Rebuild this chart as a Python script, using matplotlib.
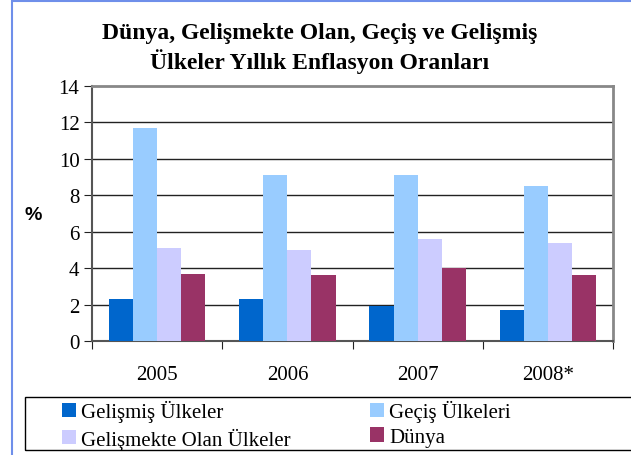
import matplotlib
matplotlib.use("Agg")
import matplotlib.pyplot as plt
import numpy as np
from matplotlib.patches import Rectangle, Patch

years = ["2005", "2006", "2007", "2008*"]
series_names = ["Gelişmiş Ülkeler", "Geçiş Ülkeleri", "Gelişmekte Olan Ülkeler", "Dünya"]
gelismis = [2.3, 2.3, 1.9, 1.7]
gecis = [11.7, 9.1, 9.1, 8.5]
gelismekte = [5.1, 5.0, 5.6, 5.4]
dunya = [3.7, 3.6, 4.0, 3.6]
colors = ["#0066CC", "#99CCFF", "#CCCCFF", "#993366"]
yticks = [0, 2, 4, 6, 8, 10, 12, 14]

serif = ["Liberation Serif", "DejaVu Serif"]

W, H = 631, 456
fig = plt.figure(figsize=(W / 100, H / 100), dpi=100)

def fx(px):
    return px / W

def fy(py):
    return 1 - py / H

# outer blue frame
fig.add_artist(Rectangle((fx(11.5), fy(470)), 1.2, fy(1.5) - fy(470),
                         transform=fig.transFigure, fill=False,
                         edgecolor="#6F8FEA", linewidth=1.5))

ax = fig.add_axes([fx(92), fy(342), fx(613) - fx(92), fy(87) - fy(342)])

data = [gelismis, gecis, gelismekte, dunya]
x = np.arange(len(years))
bw = 0.185
for i, (vals, c, name) in enumerate(zip(data, colors, series_names)):
    ax.bar(x + (i - 1.5) * bw, vals, width=bw, color=c, label=name, zorder=3)

ax.set_xlim(-0.5, len(years) - 0.5)
ax.set_ylim(0, 14)
ax.set_yticks(yticks)
ax.set_yticklabels([str(t) for t in yticks], fontfamily=serif, fontsize=15)
for t in yticks[1:-1]:
    ax.axhline(t, color="#222222", linewidth=1.0, zorder=1)

ax.set_xticks(np.arange(-0.5, len(years), 1.0))
ax.set_xticklabels([])
ax.set_xticks(x, minor=True)
ax.set_xticklabels(years, minor=True, fontfamily=serif, fontsize=15)
ax.tick_params(axis="x", which="minor", length=0, pad=17)
ax.tick_params(axis="x", which="major", length=6, direction="out", color="#222222")
ax.tick_params(axis="y", length=6, direction="out", color="#222222", pad=3)

for s in ["top", "right"]:
    ax.spines[s].set_color("#888888")
    ax.spines[s].set_linewidth(2)
ax.spines["left"].set_color("#555555")
ax.spines["left"].set_linewidth(1.5)
ax.spines["bottom"].set_color("#555555")
ax.spines["bottom"].set_linewidth(1.5)

fig.text(fx(33), fy(215), "%", fontsize=14, fontweight="bold",
         fontfamily=["Liberation Sans", "DejaVu Sans"], ha="center", va="center")

fig.text(fx(320), fy(34), "Dünya, Gelişmekte Olan, Geçiş ve Gelişmiş",
         fontsize=17, fontweight="bold", fontfamily=serif, ha="center", va="center")
fig.text(fx(320), fy(62), "Ülkeler Yıllık Enflasyon Oranları",
         fontsize=17, fontweight="bold", fontfamily=serif, ha="center", va="center")

# legend box
fig.add_artist(Rectangle((fx(24.5), fy(450.5)), 1.2, fy(397.5) - fy(450.5),
                         transform=fig.transFigure, fill=False,
                         edgecolor="black", linewidth=1.0))
order = [0, 2, 1, 3]
handles = [Patch(facecolor=colors[k], edgecolor="none") for k in order]
labels = [series_names[k] for k in order]
leg = fig.legend(handles, labels, loc="upper left",
                 bbox_to_anchor=(fx(59), fy(398)), ncol=2, frameon=False,
                 prop={"family": serif, "size": 15},
                 handlelength=0.67, handleheight=0.67, handletextpad=0.25,
                 columnspacing=3.8, labelspacing=0.25, borderaxespad=0,
                 borderpad=0.15)

fig.savefig("out.png", dpi=100)
